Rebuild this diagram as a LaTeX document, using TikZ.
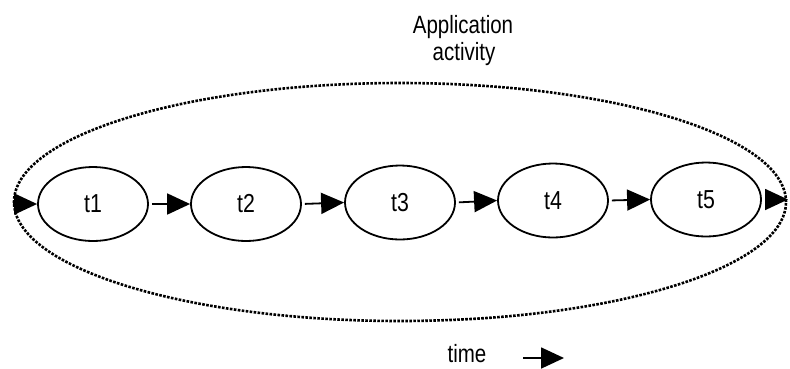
\documentclass[tikz,border=0pt]{standalone}
\usepackage{fontspec}
\setmainfont{Liberation Sans}[FakeStretch=0.82]
\usetikzlibrary{shapes.geometric,arrows.meta}
\tikzset{
  task/.style={ellipse, draw, line width=1.8pt, minimum width=110pt, minimum height=74pt, inner sep=0pt, font=\fontsize{26}{29}\selectfont},
  activity/.style={ellipse, draw, line width=2.6pt, dash pattern=on 2.6pt off 1.4pt, minimum width=772pt, minimum height=238pt, inner sep=0pt},
  flow/.style={line width=1.8pt, -{Triangle[length=23pt, width=21pt]}, shorten <=3pt},
  label/.style={font=\fontsize{25}{29}\selectfont, inner sep=0pt}
}
\begin{document}
\begin{tikzpicture}[x=1pt, y=-1pt]
  \useasboundingbox (0,0) rectangle (790,368);
  % enclosing application activity
  \node[activity] (act) at (400,202) {};
  \node[label, anchor=base] (title1) at (463,33) {Application};
  \node[label, anchor=base] (title2) at (464,60) {activity};
  % tasks in time order
  \node[task] (t1) at (93,204) {t1};
  \node[task] (t2) at (246,204) {t2};
  \node[task] (t3) at (400,202.5) {t3};
  \node[task] (t4) at (553,200.5) {t4};
  \node[task] (t5) at (706,199.5) {t5};
  \draw[flow, shorten <=0pt] (act.west |- t1.west) -- (t1.west);
  \draw[flow] (t1.east) -- (t2.west);
  \draw[flow] (t2.east) -- (t3.west);
  \draw[flow] (t3.east) -- (t4.west);
  \draw[flow] (t4.east) -- (t5.west);
  \coordinate (out) at (788,199.5);
  \draw[flow] (t5.east) -- (out);
  % time legend
  \node[label, anchor=base] (time) at (467,362) {time};
  \coordinate (ts) at (523,358);
  \coordinate (te) at (564,358);
  \draw[flow, shorten <=0pt] (ts) -- (te);
\end{tikzpicture}
\end{document}
